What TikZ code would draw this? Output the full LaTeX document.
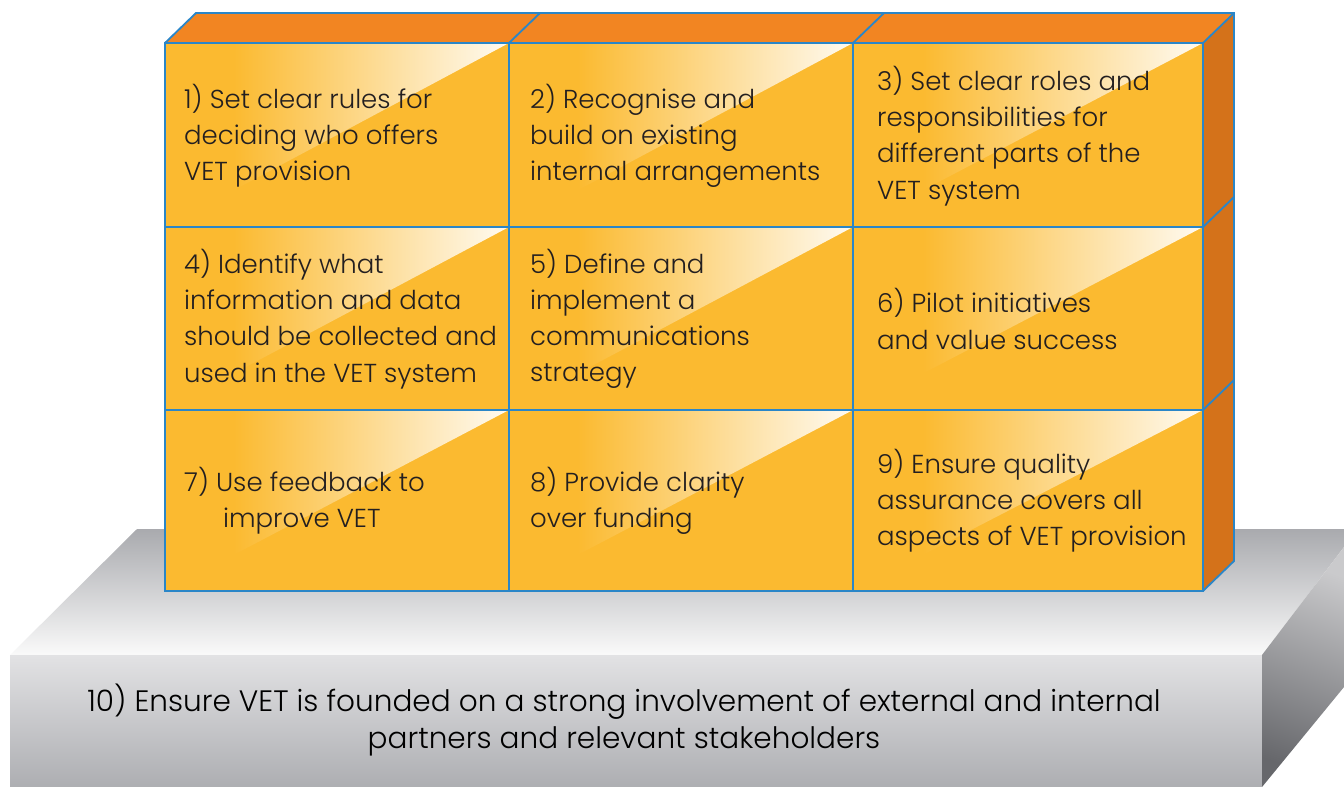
\documentclass[tikz,border=0pt]{standalone}
\usepackage{fontspec}
\setmainfont{Poppins}[UprightFont=* Light]
\usetikzlibrary{positioning}

\definecolor{blockfront}{HTML}{FBBA30}
\definecolor{blocktop}{HTML}{F28522}
\definecolor{blockside}{HTML}{D4721A}
\definecolor{edgeblue}{HTML}{2A86C8}
\definecolor{inktext}{HTML}{231F20}
\definecolor{baseback}{HTML}{A9AAAE}
\definecolor{baselight}{HTML}{FAFAFA}
\definecolor{basefronttop}{HTML}{E2E2E4}
\definecolor{basefrontbot}{HTML}{A8A9AD}
\definecolor{basesidetop}{HTML}{CACACC}
\definecolor{basesidebot}{HTML}{66676B}

% highlight across the upper-left half of each front cell
% (the box 25bp..75bp is what lands on the path)
\pgfdeclarehorizontalshading{gloss}{100bp}{color(0bp)=(blockfront); color(35bp)=(blockfront); color(75bp)=(white!94!blockfront); color(100bp)=(white!94!blockfront)}

\newcommand{\cellfont}{\fontsize{37}{51.5}\selectfont}
\newcommand{\basefont}{\fontsize{42}{54}\selectfont}

\begin{document}
\begin{tikzpicture}[
  x=0.05cm, y=-0.05cm,
  edge/.style={draw=edgeblue, line width=2.6pt},
  celltext/.style={anchor=west, align=left, font=\cellfont, text=inktext, inner sep=0pt},
]
\useasboundingbox (0,0) rectangle (1344,787);
\clip (0,0) rectangle (1344,787);

% ---------------- grey platform ----------------
\shade[top color=baseback, bottom color=baselight]
  (10,655) -- (137,529) -- (1344,529) -- (1344,547) -- (1262,655) -- cycle;
\shade[top color=basefronttop, bottom color=basefrontbot]
  (10,655) rectangle (1262,800);
\shade[top color=basesidetop, bottom color=basesidebot, shading angle=-20]
  (1262,655) -- (1344,547) -- (1344,687) -- (1262,787) -- cycle;

% ---------------- orange block: top and side ----------------
\fill[blocktop] (165,43) -- (196,13) -- (1234,13) -- (1203,43) -- cycle;
\fill[blockside] (1203,43) -- (1234,13) -- (1234,561) -- (1203,591) -- cycle;

% ---------------- front cells with gloss ----------------
\fill[blockfront] (165,43) rectangle (1203,591);
\foreach \xl/\xr in {165/509, 509/853, 853/1203} {
  \foreach \yt/\yb in {43/227, 227/410, 410/591} {
    \shade[shading=gloss] (\xl,\yt) -- (\xr,\yt) -- (\xl,\yb) -- cycle;
  }
}

% ---------------- blue edges ----------------
\draw[edge] (165,43) rectangle (1203,591);
\draw[edge] (165,43) -- (196,13) -- (1234,13) -- (1234,561) -- (1203,591);
\draw[edge] (1203,43) -- (1234,13);
\foreach \x in {509, 853} {
  \draw[edge] (\x,43) -- (\x,591);
  \draw[edge] (\x,43) -- (\x+31,13);
}
\foreach \y in {227, 410} {
  \draw[edge] (165,\y) -- (1203,\y);
  \draw[edge] (1203,\y) -- (1234,\y-30);
}

% ---------------- cell labels ----------------
\node[celltext] (c1) at (184,136) {1) Set clear rules for\\deciding who offers\\VET provision};
\node[celltext] (c2) at (530,136) {2) Recognise and\\build on existing\\internal arrangements};
\node[celltext] (c3) at (877,136) {3) Set clear roles and\\responsibilities for\\different parts of the\\VET system};
\node[celltext] (c4) at (184,319) {4) Identify what\\information and data\\should be collected and\\used in the VET system};
\node[celltext] (c5) at (530,319) {5) Define and\\implement a\\communications\\strategy};
\node[celltext] (c6) at (877,319) {6) Pilot initiatives\\and value success};
\node[celltext] (c7) at (184,501) {7) Use feedback to\\\hspace*{1.5em}improve VET};
\node[celltext] (c8) at (530,501) {8) Provide clarity\\over funding};
\node[celltext] (c9) at (877,501) {9) Ensure quality\\assurance covers all\\aspects of VET provision};

% ---------------- platform label ----------------
\node[align=center, font=\basefont, text=black, inner sep=0pt] (c10) at (624,720)
  {10) Ensure VET is founded on a strong involvement of external and internal\\partners and relevant stakeholders};
\end{tikzpicture}
\end{document}
